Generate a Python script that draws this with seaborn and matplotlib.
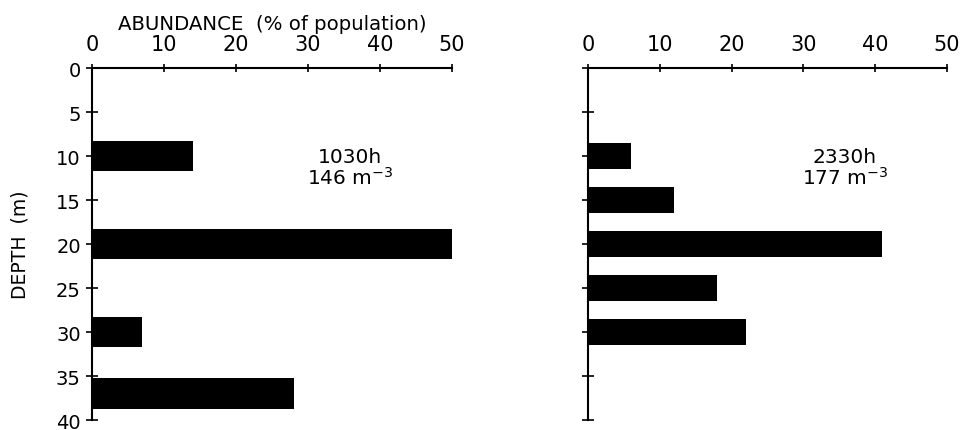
import matplotlib
matplotlib.use("Agg")
import matplotlib.pyplot as plt
import seaborn as sns
import pandas as pd

# Vertical distribution of the population at two sampling times
day_depths = [10, 20, 30, 37]
day_abundance = [14, 50, 7, 28]
day_label = "1030h\n146 m$^{-3}$"

night_depths = [10, 15, 20, 25, 30]
night_abundance = [6, 12, 41, 18, 22]
night_label = "2330h\n177 m$^{-3}$"

x_ticks = [0, 10, 20, 30, 40, 50]
depth_ticks = [0, 5, 10, 15, 20, 25, 30, 35, 40]

sns.set_style("ticks")
plt.rcParams["font.family"] = ["DejaVu Sans"]
plt.rcParams["mathtext.fontset"] = "dejavusans"
plt.rcParams["text.color"] = "black"
plt.rcParams["axes.labelcolor"] = "black"

fig = plt.figure(figsize=(9.66, 4.31), dpi=100)
ax_day = fig.add_axes([0.0952, 0.0232, 0.3727, 0.8167])
ax_night = fig.add_axes([0.6087, 0.0232, 0.3716, 0.8167])


def draw_panel(ax, depths, values, bar_width, label, show_labels):
    df = pd.DataFrame({"depth": depths, "abundance": values})
    sns.barplot(data=df, x="abundance", y="depth", orient="y",
                native_scale=True, color="black", edgecolor="black",
                linewidth=0, width=bar_width, saturation=1, ax=ax)
    ax.set_xlim(0, 50)
    ax.set_ylim(40, 0)
    ax.set_xticks(x_ticks)
    ax.set_yticks(depth_ticks)
    ax.xaxis.tick_top()
    ax.xaxis.set_label_position("top")
    for side in ("right", "bottom"):
        ax.spines[side].set_visible(False)
    for side in ("top", "left"):
        ax.spines[side].set_linewidth(1.5)
        ax.spines[side].set_color("black")
    ax.tick_params(axis="both", direction="inout", length=8, width=1.2,
                   labelsize=14, colors="black", pad=4)
    ax.tick_params(axis="x", length=6, pad=7, labelsize=15)
    ax.text(35.8, 11.3, label, ha="center", va="center", fontsize=14.5,
            linespacing=0.95)
    if show_labels:
        ax.set_xlabel("ABUNDANCE  (% of population)", fontsize=14.2, labelpad=4)
        ax.set_ylabel("DEPTH  (m)", fontsize=13.5, labelpad=19)
    else:
        ax.set_xlabel("")
        ax.set_ylabel("")
        ax.set_yticklabels([])


draw_panel(ax_day, day_depths, day_abundance, 3.5 / 7, day_label, True)
draw_panel(ax_night, night_depths, night_abundance, 2.9 / 5, night_label, False)

fig.savefig("out.png", dpi=100, facecolor="white")
